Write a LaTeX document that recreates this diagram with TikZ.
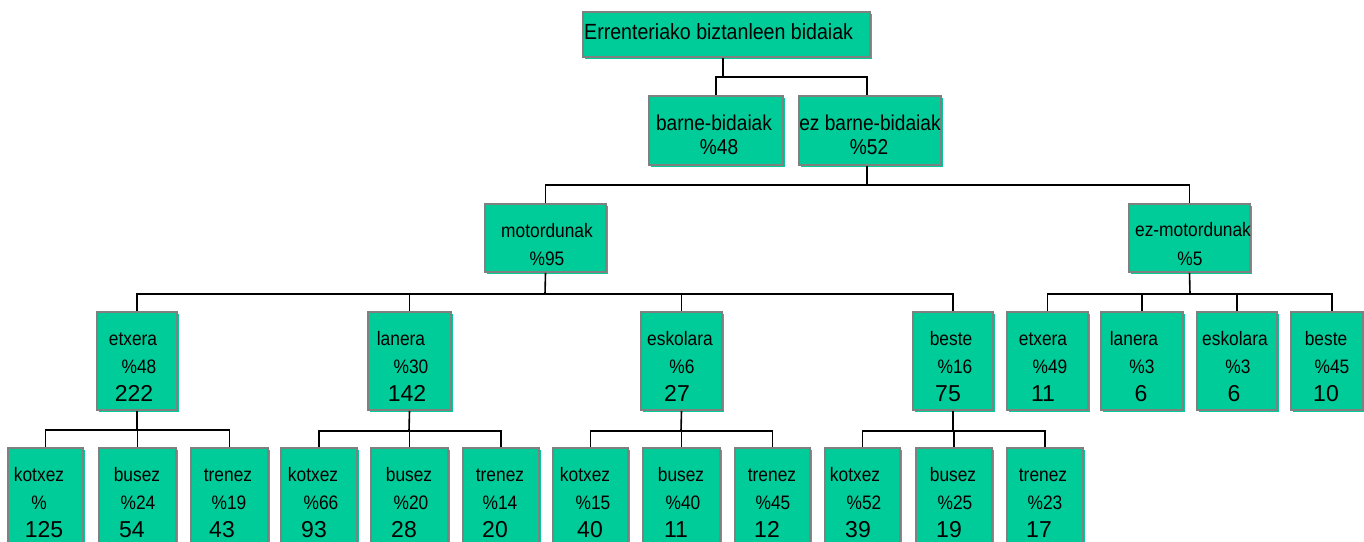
\documentclass[tikz,border=0pt]{standalone}
\usepackage{fontspec}
\setmainfont{Liberation Sans}
\newfontfamily\narrowsans[FakeStretch=0.89]{Liberation Sans}
\usetikzlibrary{shadows}

\definecolor{boxgreen}{RGB}{0,204,153}
\definecolor{boxline}{RGB}{128,128,128}

\tikzset{
  box/.style={draw=boxline, line width=1.6pt, fill=boxgreen, inner sep=0pt,
    drop shadow={shadow xshift=2pt, shadow yshift=-2pt, fill=boxgreen, opacity=1}},
  link/.style={draw=black, line width=1.6pt},
  head/.style={inner sep=0pt, font=\narrowsans\fontsize{22}{24}\selectfont},
  mid/.style={inner sep=0pt, font=\narrowsans\fontsize{21.5}{23}\selectfont},
  lbl/.style={inner sep=0pt, font=\narrowsans\fontsize{19.5}{21}\selectfont},
  num/.style={inner sep=0pt, font=\fontsize{23}{25}\selectfont}
}

% box given by its corners: name, x1, y1, x2, y2
\newcommand\tbox[5]{%
  \node[box, minimum width={#4-#2}, minimum height={#5-#3}] (#1) at ({(#2+#4)/2},{(#3+#5)/2}) {};}
% three text lines in a box: name, baseline, x label, label, x pct, pct, x num, num
\newcommand\trio[8]{%
  \node[lbl, anchor=base] (#1-l) at (#3,#2) {#4};
  \node[lbl, anchor=base] (#1-p) at (#5,#2+28) {#6};
  \node[num, anchor=base] (#1-n) at (#7,#2+56) {#8};}

\begin{document}
\begin{tikzpicture}[x=1pt, y=-1pt]
\fill[white] (0,0) rectangle (1364,541);
\useasboundingbox (0,0) rectangle (1364,541);

% ---- boxes ----
\tbox{root}{583}{12}{870}{57}
\tbox{barne}{649}{96}{783}{165}
\tbox{ezbarne}{799}{96}{941}{165}
\tbox{motor}{485}{204}{606}{272}
\tbox{ezmotor}{1129}{204}{1250}{272}

\tbox{m1}{97}{312}{177}{410}
\tbox{m2}{368}{312}{451}{410}
\tbox{m3}{641}{312}{722}{410}
\tbox{m4}{913}{312}{993}{410}
\tbox{e1}{1007}{312}{1088}{410}
\tbox{e2}{1101}{312}{1183}{410}
\tbox{e3}{1197}{312}{1277}{410}
\tbox{e4}{1291}{312}{1363}{410}

\tbox{a1}{8}{448}{83}{560}
\tbox{a2}{99}{448}{176}{560}
\tbox{a3}{191}{448}{268}{560}
\tbox{b1}{281}{448}{357}{560}
\tbox{b2}{371}{448}{448}{560}
\tbox{b3}{463}{448}{539}{560}
\tbox{c1}{553}{448}{628}{560}
\tbox{c2}{643}{448}{720}{560}
\tbox{c3}{735}{448}{810}{560}
\tbox{d1}{825}{448}{900}{560}
\tbox{d2}{916}{448}{992}{560}
\tbox{d3}{1007}{448}{1083}{560}

% ---- connectors ----
\coordinate (j0) at (723,77);
\coordinate (j1) at (867,185);
\coordinate (j2) at (545,294);
\coordinate (j3) at (1190,294);
\coordinate (ja) at (137,430);
\coordinate (jb) at (409,431);
\coordinate (jc) at (681,431);
\coordinate (jd) at (953,431);

\draw[link] (j0 |- root.south) -- (j0);
\draw[link] (j0) -| (barne.north);
\draw[link] (j0) -| ([xshift=-3pt]ezbarne.north);

\draw[link] ([xshift=-3pt]ezbarne.south) -- (j1);
\draw[link] (j1) -| (motor.north);
\draw[link] (j1) -| (ezmotor.north);

\draw[link] (motor.south) -- (j2);
\foreach \n in {m1,m2,m3,m4} \draw[link] (j2) -| (\n.north);

\draw[link] (ezmotor.south) -- (j3);
\draw[link] (j3) -| (e1.north);
\draw[link] (j3) -| (e2.north);
\draw[link] (j3) -| (e3.north);
\draw[link] (j3) -| ([xshift=5pt]e4.north);

\draw[link] (m1.south) -- (ja);
\foreach \n in {a1,a2,a3} \draw[link] (ja) -| (\n.north);
\draw[link] (m2.south) -- (jb);
\foreach \n in {b1,b2,b3} \draw[link] (jb) -| (\n.north);
\draw[link] (m3.south) -- (jc);
\foreach \n in {c1,c2,c3} \draw[link] (jc) -| (\n.north);
\draw[link] (m4.south) -- (jd);
\foreach \n in {d1,d2,d3} \draw[link] (jd) -| (\n.north);

% ---- texts ----
\node[head, anchor=base west] (root-t) at (584,39) {Errenteriako biztanleen bidaiak};

\node[mid, anchor=base] (barne-l) at (714,130) {barne-bidaiak};
\node[mid, anchor=base] (barne-p) at (719,154) {\%48};
\node[mid, anchor=base] (ezbarne-l) at (870,130) {ez barne-bidaiak};
\node[mid, anchor=base] (ezbarne-p) at (869,154) {\%52};

\node[lbl, anchor=base] (motor-l) at (547,237) {motordunak};
\node[lbl, anchor=base] (motor-p) at (547,265) {\%95};
\node[lbl, anchor=base] (ezmotor-l) at (1193,236) {ez-motordunak};
\node[lbl, anchor=base] (ezmotor-p) at (1190,265) {\%5};

\trio{m1}{345}{133}{etxera}{139}{\%48}{134}{222}
\trio{m2}{345}{401}{lanera}{411}{\%30}{407}{142}
\trio{m3}{345}{680}{eskolara}{682}{\%6}{677}{27}
\trio{m4}{345}{951}{beste}{955}{\%16}{948}{75}
\trio{e1}{345}{1043}{etxera}{1050}{\%49}{1043}{11}
\trio{e2}{345}{1134}{lanera}{1142}{\%3}{1141}{6}
\trio{e3}{345}{1235}{eskolara}{1238}{\%3}{1234}{6}
\trio{e4}{345}{1326}{beste}{1332}{\%45}{1326}{10}

\trio{a1}{481}{39}{kotxez}{39}{\%}{44}{125}
\trio{a2}{481}{137}{busez}{138}{\%24}{132}{54}
\trio{a3}{481}{228}{trenez}{229}{\%19}{222}{43}
\trio{b1}{481}{313}{kotxez}{321}{\%66}{314}{93}
\trio{b2}{481}{409}{busez}{411}{\%20}{404}{28}
\trio{b3}{481}{500}{trenez}{500}{\%14}{495}{20}
\trio{c1}{481}{585}{kotxez}{593}{\%15}{590}{40}
\trio{c2}{481}{681}{busez}{683}{\%40}{676}{11}
\trio{c3}{481}{772}{trenez}{773}{\%45}{767}{12}
\trio{d1}{481}{855}{kotxez}{864}{\%52}{858}{39}
\trio{d2}{481}{953}{busez}{955}{\%25}{949}{19}
\trio{d3}{481}{1043}{trenez}{1045}{\%23}{1039}{17}
\end{tikzpicture}
\end{document}
